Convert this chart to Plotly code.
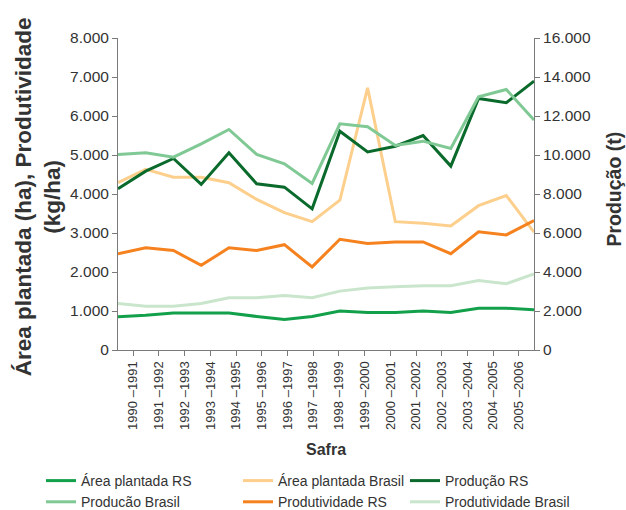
import plotly.graph_objects as go

safras = ["1990 –1991", "1991 –1992", "1992 –1993", "1993 –1994", "1994 –1995", "1995 –1996",
          "1996 –1997", "1997 –1998", "1998 –1999", "1999 –2000", "2000 –2001", "2001 –2002",
          "2002 –2003", "2003 –2004", "2004 –2005", "2005 –2006"]

area_rs = [850, 890, 950, 950, 950, 860, 780, 860, 1000, 960, 960, 1000, 960, 1070, 1070, 1030]
area_brasil = [4290, 4630, 4430, 4430, 4290, 3860, 3520, 3290, 3840, 6720, 3290, 3250, 3180, 3700, 3960, 3020]
producao_rs = [8270, 9170, 9820, 8490, 10110, 8520, 8350, 7240, 11220, 10160, 10450, 11000, 9430, 12900, 12680, 13790]
producao_brasil = [10030, 10110, 9890, 10570, 11310, 10030, 9550, 8540, 11600, 11450, 10490, 10710, 10330, 12990, 13360, 11790]
produtividade_rs = [2470, 2620, 2550, 2170, 2620, 2550, 2700, 2130, 2840, 2730, 2770, 2770, 2470, 3030, 2950, 3320]
produtividade_brasil = [1190, 1120, 1120, 1190, 1340, 1340, 1400, 1340, 1510, 1590, 1620, 1650, 1650, 1780, 1700, 1950]

left_ticks = [0, 1000, 2000, 3000, 4000, 5000, 6000, 7000, 8000]
left_labels = ["0", "1.000", "2.000", "3.000", "4.000", "5.000", "6.000", "7.000", "8.000"]
right_ticks = [0, 2000, 4000, 6000, 8000, 10000, 12000, 14000, 16000]
right_labels = ["0", "2.000", "4.000", "6.000", "8.000", "10.000", "12.000", "14.000", "16.000"]

x = list(range(len(safras)))
# category label positions as drawn in the reference (slightly inset from the data points)
tick_pos = [0.55 + i * 0.927 for i in range(len(safras))]

# (name, values, y axis, colour, legend column)
series = [
    ("Área plantada RS", area_rs, "y", "#13a04b", "legend"),
    ("Área plantada Brasil", area_brasil, "y", "#fdcf8c", "legend2"),
    ("Produção RS", producao_rs, "y2", "#0a6a2c", "legend3"),
    ("Producão Brasil", producao_brasil, "y2", "#80c995", "legend"),
    ("Produtividade RS", produtividade_rs, "y", "#f5821f", "legend2"),
    ("Produtividade Brasil", produtividade_brasil, "y", "#c9e6cd", "legend3"),
]

fig = go.Figure()
for name, vals, ax, col, leg in series:
    fig.add_trace(go.Scatter(x=x, y=vals, name=name, mode="lines", yaxis=ax, legend=leg,
                             line=dict(color=col, width=3)))

font_family = "Liberation Sans, Arial, sans-serif"
axis_col = "#7a7a7a"
txt_col = "#333333"

PLOT_L, PLOT_W, PLOT_B, PLOT_H = 118, 416, 350, 312

def leg(px):
    return dict(orientation="v", xref="paper", yref="paper",
                x=(px - PLOT_L) / PLOT_W, y=(PLOT_B - 465) / PLOT_H,
                xanchor="left", yanchor="top", font=dict(size=14, color=txt_col),
                tracegroupgap=0, itemwidth=30, bgcolor="rgba(0,0,0,0)")

fig.update_layout(
    width=626, height=510,
    margin=dict(l=118, r=92, t=38, b=160, autoexpand=False),
    paper_bgcolor="white", plot_bgcolor="white",
    font=dict(family=font_family, color=txt_col, size=14),
    showlegend=True,
    legend=leg(41),
    legend2=leg(238),
    legend3=leg(405),
    xaxis=dict(range=[0, 15], tickmode="array", tickvals=tick_pos, ticktext=safras,
               tickangle=-90, ticks="outside", ticklen=5, tickcolor=axis_col,
               showline=True, linecolor=axis_col, linewidth=1, showgrid=False, zeroline=False,
               tickfont=dict(size=13, color=txt_col)),
    yaxis=dict(range=[0, 8000], tickmode="array", tickvals=left_ticks, ticktext=left_labels,
               ticks="outside", ticklen=5, tickcolor=axis_col, showline=True, linecolor=axis_col,
               linewidth=1, showgrid=False, zeroline=False,
               tickfont=dict(size=15.5, color=txt_col)),
    yaxis2=dict(range=[0, 16000], overlaying="y", side="right", tickmode="array",
                tickvals=right_ticks, ticktext=right_labels, ticks="outside", ticklen=5,
                tickcolor=axis_col, showline=True, linecolor=axis_col, linewidth=1,
                showgrid=False, zeroline=False,
                tickfont=dict(size=15.5, color=txt_col)),
    annotations=[
        dict(text="<b>Área plantada (ha), Produtividade<br>(kg/ha)</b>", textangle=-90,
             xref="paper", yref="paper", x=-0.192, y=0.49, xanchor="center", yanchor="middle",
             showarrow=False, font=dict(size=22.5, color=txt_col)),
        dict(text="<b>Produção (t)</b>", textangle=-90,
             xref="paper", yref="paper", x=1.192, y=0.517, xanchor="center", yanchor="middle",
             showarrow=False, font=dict(size=19.5, color=txt_col)),
        dict(text="<b>Safra</b>", xref="paper", yref="paper", x=0.5, y=-0.32,
             xanchor="center", yanchor="middle", showarrow=False,
             font=dict(size=16, color=txt_col)),
    ],
)

fig.write_html("out.html", config={"displayModeBar": False},
               post_script="document.body.style.margin='0';document.body.style.padding='0';")
